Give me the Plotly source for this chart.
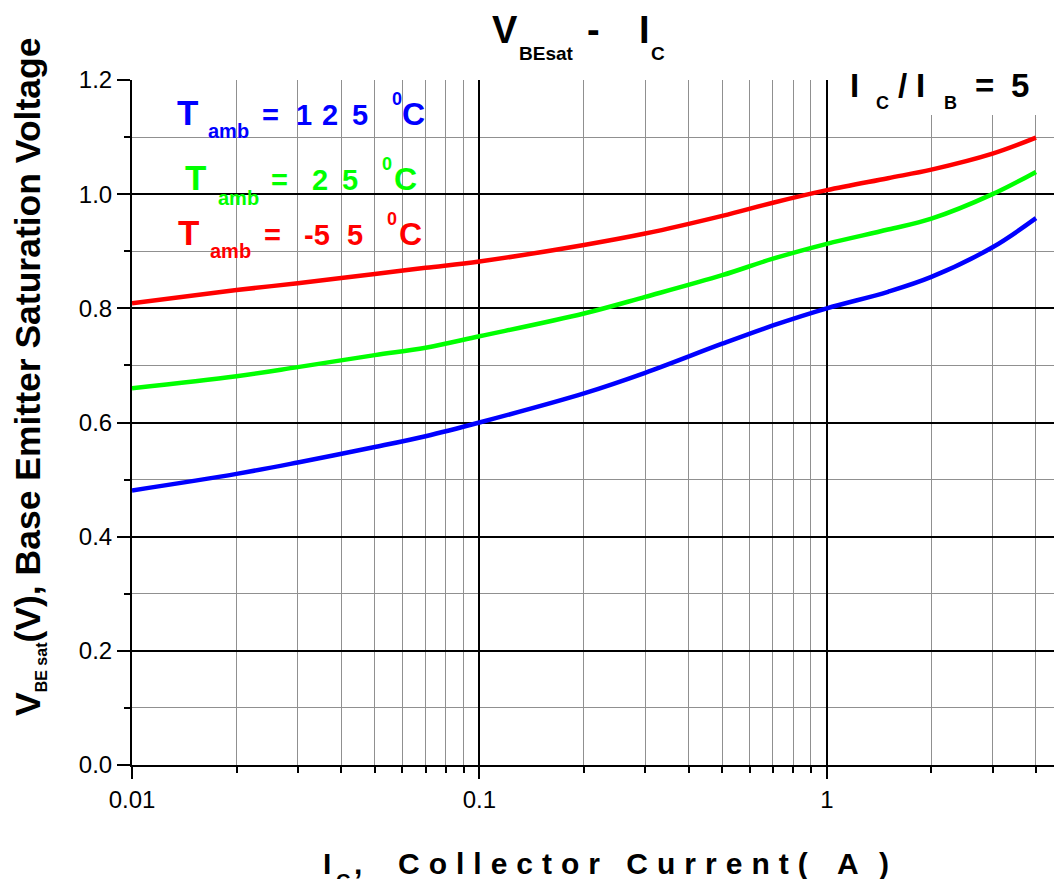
import plotly.graph_objects as go

# collector current (A)
ic = [0.01, 0.02, 0.03, 0.05, 0.07, 0.1, 0.2, 0.3, 0.5, 0.7, 1, 1.5, 2, 3, 4]

# VBEsat (V)
vbe_125 = [0.481, 0.510, 0.530, 0.557, 0.576, 0.600, 0.651, 0.687, 0.738, 0.770,
           0.800, 0.829, 0.855, 0.907, 0.958]
vbe_25 = [0.660, 0.681, 0.697, 0.718, 0.731, 0.751, 0.791, 0.820, 0.858, 0.887,
          0.913, 0.938, 0.957, 1.000, 1.039]
vbe_m55 = [0.809, 0.832, 0.844, 0.860, 0.871, 0.882, 0.911, 0.931, 0.962, 0.985,
           1.007, 1.028, 1.043, 1.071, 1.099]

series = [
    ("125", vbe_125, "#0000ff"),
    ("25", vbe_25, "#00ff00"),
    ("-55", vbe_m55, "#ff0000"),
]

ARIAL = "Liberation Sans, Arial, Helvetica, sans-serif"

# the page has an 8px body margin, so the plot box is laid out in page pixels
PX0, PX1, PY0, PY1 = 132, 1062, 80, 765


def px(x):
    return (x - PX0) / (PX1 - PX0)


def py(y):
    return (PY1 - y) / (PY1 - PY0)


fig = go.Figure()
for name, vals, col in series:
    fig.add_trace(go.Scatter(
        x=ic, y=vals, mode="lines", name=name,
        line=dict(color=col, width=4.5, shape="spline", smoothing=1.0),
        showlegend=False,
    ))

fig.update_layout(
    width=1054, height=871,
    margin=dict(l=124, r=0, t=72, b=114),
    plot_bgcolor="white", paper_bgcolor="white",
    xaxis=dict(
        type="log", range=[-2, 0.677], dtick=1,
        showgrid=True, gridcolor="black", gridwidth=2,
        showline=True, linecolor="black", linewidth=2,
        ticks="outside", ticklen=12, tickwidth=2, tickcolor="black",
        tickfont=dict(family=ARIAL, size=24, color="black"),
        zeroline=False,
        minor=dict(dtick="D1", showgrid=True, gridcolor="#909090", gridwidth=1,
                   ticks="outside", ticklen=6, tickwidth=2, tickcolor="black"),
    ),
    yaxis=dict(
        range=[0, 1.2], dtick=0.2, tickformat=".1f",
        showgrid=True, gridcolor="black", gridwidth=2,
        showline=True, linecolor="black", linewidth=2,
        ticks="outside", ticklen=13, tickwidth=2, tickcolor="black",
        tickfont=dict(family=ARIAL, size=24, color="black"),
        zeroline=False,
        minor=dict(dtick=0.1, showgrid=True, gridcolor="#909090", gridwidth=1,
                   ticks="outside", ticklen=6, tickwidth=2, tickcolor="black"),
    ),
)


def piece(text, left, base, size, color="black"):
    # left edge and baseline given in page pixels
    fig.add_annotation(
        x=px(left), y=py(base - 0.35 * size), xref="paper", yref="paper",
        xanchor="left", yanchor="middle", borderpad=0,
        text="<b>" + text + "</b>", showarrow=False,
        font=dict(family=ARIAL, size=size, color=color),
    )


# title  V_BEsat - I_C
for t, x, b, s in [("V", 491, 43, 38), ("BEsat", 518, 60, 19), ("-", 586, 43, 38),
                   ("I", 638, 43, 38), ("C", 650, 60, 19)]:
    piece(t, x, b, s)

# white box behind the current ratio label
fig.add_shape(type="rect", xref="paper", yref="paper",
              x0=px(842), x1=px(1036), y0=py(115), y1=py(66),
              fillcolor="white", line=dict(width=0), layer="above")
for t, x, b, s in [("I", 849, 97, 33), ("C", 875, 109, 18), ("/", 897, 97, 33),
                   ("I", 915, 97, 33), ("B", 943, 109, 18), ("=", 974, 97, 33),
                   ("5", 1010, 97, 33)]:
    piece(t, x, b, s)

# temperature labels
temp_pieces = [
    ("#0000ff", [("T", 176, 125, 35), ("amb", 207, 138, 20), ("=", 261, 125, 29),
                 ("1", 295, 125, 29), ("2", 321, 125, 29), ("5", 351, 125, 29),
                 ("0", 391, 105, 18), ("C", 401, 125, 32)]),
    ("#00ff00", [("T", 184, 190, 35), ("amb", 217, 205, 20), ("=", 270, 190, 29),
                 ("2", 311, 190, 29), ("5", 341, 190, 29),
                 ("0", 381, 170, 18), ("C", 393, 190, 32)]),
    ("#ff0000", [("T", 177, 245, 35), ("amb", 209, 258, 20), ("=", 263, 245, 29),
                 ("-5", 303, 245, 29), ("5", 346, 245, 29),
                 ("0", 386, 225, 18), ("C", 398, 245, 32)]),
]
for col, parts in temp_pieces:
    for t, x, b, s in parts:
        piece(t, x, b, s, col)

# x axis title
piece("I", 322, 874, 30)
piece("C", 335, 888, 20)
piece(",", 353, 874, 30)
piece('<span style="letter-spacing:9px">Collector Current(</span>', 397, 874, 30)
piece("A", 836, 874, 30)
piece(")", 878, 874, 30)

# y axis title
fig.add_annotation(
    x=px(29), y=py(377), xref="paper", yref="paper",
    xanchor="center", yanchor="middle",
    text='<b>V<sub><span style="font-size:16px">BE sat</span></sub>(V), Base Emitter Saturation Voltage</b>',
    textangle=-90, showarrow=False,
    font=dict(family=ARIAL, size=35.5, color="black"),
)

fig.write_html("out.html")
